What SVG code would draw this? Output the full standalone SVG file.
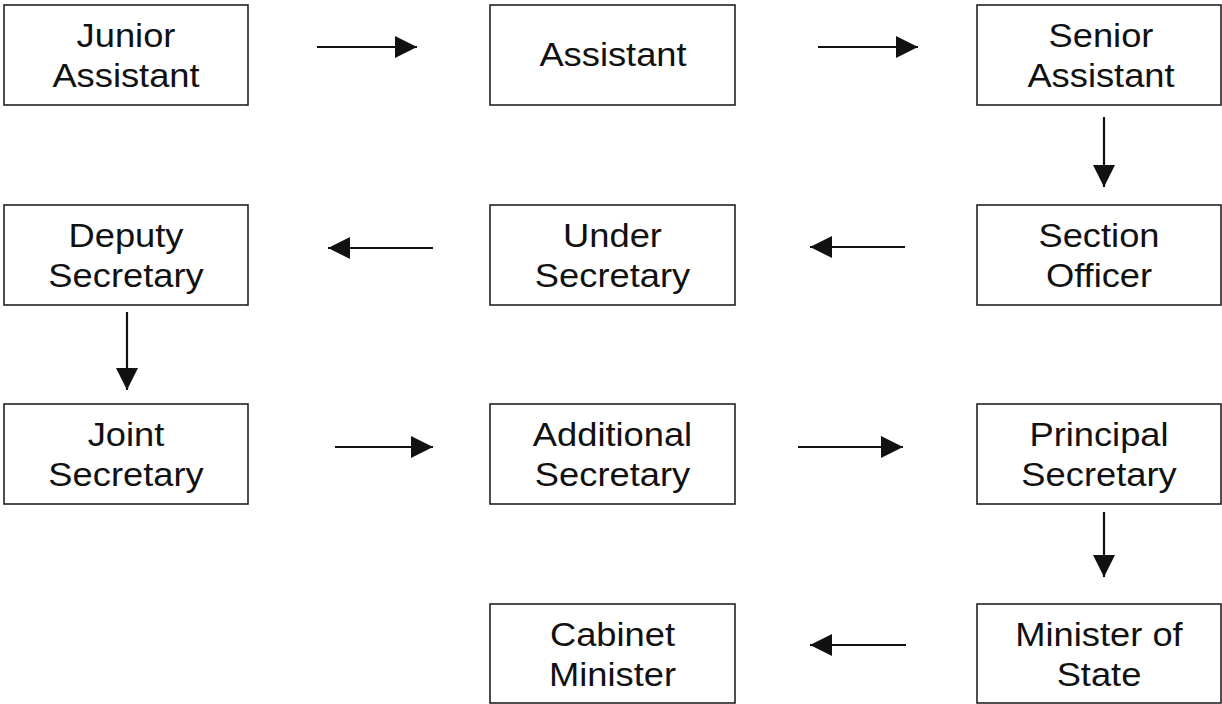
<svg xmlns="http://www.w3.org/2000/svg" width="1222" height="704" viewBox="0 0 1222 704">
<defs>
<style>
.box{fill:#fff;stroke:#222;stroke-width:1.6}
.t{font-family:"Liberation Sans",Arial,sans-serif;font-size:33px;fill:#111;text-anchor:middle}
.c{stroke:#111;stroke-width:2.2;fill:none;marker-end:url(#ah)}
</style>
<marker id="ah" markerUnits="userSpaceOnUse" markerWidth="22" markerHeight="22" viewBox="0 0 20 20" refX="20" refY="10" orient="auto">
<path d="M0,0 L20,10 L0,20 Z" fill="#111"/>
</marker>
</defs>
<rect width="1222" height="704" fill="#fff"/>
<g id="connectors">
<line class="c" x1="317" y1="47" x2="417" y2="47"/>
<line class="c" x1="818" y1="47" x2="918" y2="47"/>
<line class="c" x1="1104" y1="117" x2="1104" y2="187"/>
<line class="c" x1="905" y1="247" x2="810" y2="247"/>
<line class="c" x1="433" y1="248" x2="328" y2="248"/>
<line class="c" x1="127" y1="312" x2="127" y2="390"/>
<line class="c" x1="335" y1="447" x2="433" y2="447"/>
<line class="c" x1="798" y1="447" x2="903" y2="447"/>
<line class="c" x1="1104" y1="512" x2="1104" y2="577"/>
<line class="c" x1="906" y1="645" x2="810" y2="645"/>
</g>
<g id="junior-assistant">
<rect class="box" x="4" y="5" width="244" height="100"/>
<text class="t" transform="translate(126,47) scale(1.1,1)">Junior</text>
<text class="t" transform="translate(126,87) scale(1.1,1)">Assistant</text>
</g>
<g id="assistant">
<rect class="box" x="490" y="5" width="245" height="100"/>
<text class="t" transform="translate(613,66) scale(1.1,1)">Assistant</text>
</g>
<g id="senior-assistant">
<rect class="box" x="977" y="5" width="244" height="100"/>
<text class="t" transform="translate(1101,47) scale(1.1,1)">Senior</text>
<text class="t" transform="translate(1101,87) scale(1.1,1)">Assistant</text>
</g>
<g id="section-officer">
<rect class="box" x="977" y="205" width="244" height="100"/>
<text class="t" transform="translate(1099,247) scale(1.1,1)">Section</text>
<text class="t" transform="translate(1099,287) scale(1.1,1)">Officer</text>
</g>
<g id="under-secretary">
<rect class="box" x="490" y="205" width="245" height="100"/>
<text class="t" transform="translate(612.5,247) scale(1.1,1)">Under</text>
<text class="t" transform="translate(612.5,287) scale(1.1,1)">Secretary</text>
</g>
<g id="deputy-secretary">
<rect class="box" x="4" y="205" width="244" height="100"/>
<text class="t" transform="translate(126,247) scale(1.1,1)">Deputy</text>
<text class="t" transform="translate(126,287) scale(1.1,1)">Secretary</text>
</g>
<g id="joint-secretary">
<rect class="box" x="4" y="404" width="244" height="100"/>
<text class="t" transform="translate(126,446) scale(1.1,1)">Joint</text>
<text class="t" transform="translate(126,486) scale(1.1,1)">Secretary</text>
</g>
<g id="additional-secretary">
<rect class="box" x="490" y="404" width="245" height="100"/>
<text class="t" transform="translate(612.5,446) scale(1.1,1)">Additional</text>
<text class="t" transform="translate(612.5,486) scale(1.1,1)">Secretary</text>
</g>
<g id="principal-secretary">
<rect class="box" x="977" y="404" width="244" height="100"/>
<text class="t" transform="translate(1099,446) scale(1.1,1)">Principal</text>
<text class="t" transform="translate(1099,486) scale(1.1,1)">Secretary</text>
</g>
<g id="minister-of-state">
<rect class="box" x="977" y="604" width="244" height="99"/>
<text class="t" transform="translate(1099,646) scale(1.1,1)">Minister of</text>
<text class="t" transform="translate(1099,686) scale(1.1,1)">State</text>
</g>
<g id="cabinet-minister">
<rect class="box" x="490" y="604" width="245" height="99"/>
<text class="t" transform="translate(612.5,646) scale(1.1,1)">Cabinet</text>
<text class="t" transform="translate(612.5,686) scale(1.1,1)">Minister</text>
</g>
</svg>
